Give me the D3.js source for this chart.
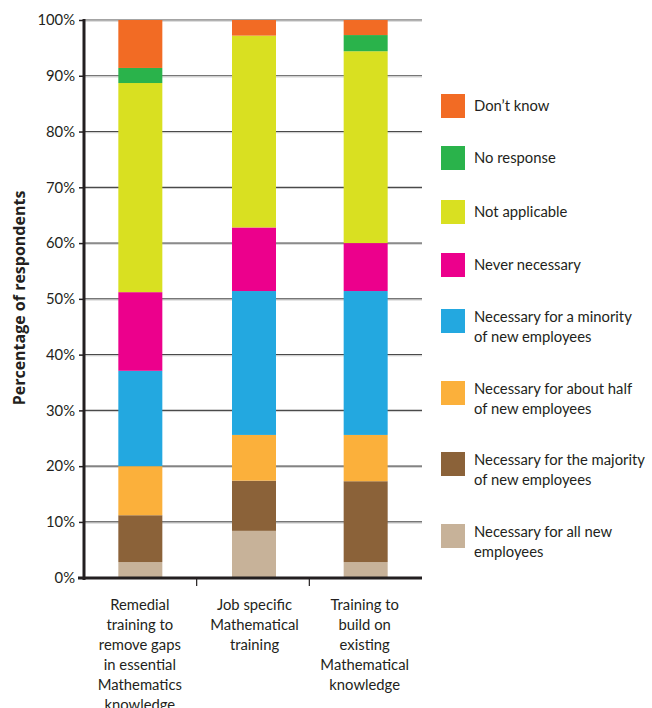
<!DOCTYPE html>
<html><head><meta charset="utf-8">
<script src="https://cdn.jsdelivr.net/npm/d3@7"></script>
<style>body{margin:0;background:#fff;} text{font-family:Lato,"Open Sans",sans-serif;fill:#231F20;}</style>
</head><body>
<svg id="c" width="652" height="708"></svg>
<script>
const categories = [
  ["Remedial","training to","remove gaps","in essential","Mathematics","knowledge"],
  ["Job specific","Mathematical","training"],
  ["Training to","build on","existing","Mathematical","knowledge"]
];
const catKeys = ["Remedial", "Job specific", "Training to build"];
const seriesNames = ["Necessary for all new employees","Necessary for the majority of new employees","Necessary for about half of new employees","Necessary for a minority of new employees","Never necessary","Not applicable","No response","Don’t know"];
const seriesColors = ["#C7B299","#8B6239","#FBB03B","#23A8E0","#EC008C","#D9E021","#2AB34B","#F26B24"];
// values per series, for [Remedial, Job specific, Training to build]
const allNew    = [2.8, 8.4, 2.8];
const majority  = [8.4, 9.0, 14.5];
const half      = [8.8, 8.2, 8.3];
const minority  = [17.1, 25.8, 25.8];
const never     = [14.1, 11.4, 8.6];
const notAppl   = [37.5, 34.4, 34.4];
const noResp    = [2.7, 0.0, 2.9];
const dontKnow  = [8.6, 2.8, 2.7];
const seriesValues = [allNew, majority, half, minority, never, notAppl, noResp, dontKnow];
const yTicks = [0,10,20,30,40,50,60,70,80,90,100];
const legendLines = [
  ["Don’t know"],["No response"],["Not applicable"],["Never necessary"],
  ["Necessary for a minority","of new employees"],["Necessary for about half","of new employees"],
  ["Necessary for the majority","of new employees"],["Necessary for all new","employees"]
];
const legendColors = ["#F26B24","#2AB34B","#D9E021","#EC008C","#23A8E0","#FBB03B","#8B6239","#C7B299"];
const legendTops = [94,146,200,253,309,381,452,524];

const svg = d3.select("#c");
const x = d3.scaleBand().domain(catKeys).range([84,422]).padding(0);
const y = d3.scaleLinear().domain([0,100]).range([577.7,20]);
const barW = 44;

// gridlines
svg.append("g").selectAll("line").data(yTicks.filter(d=>d>0)).join("line")
  .attr("x1",84).attr("x2",422).attr("y1",d=>y(d)).attr("y2",d=>y(d))
  .attr("stroke","#4a4a4a").attr("stroke-width",1.2);
svg.append("g").selectAll("line").data(yTicks.filter(d=>d>0)).join("line")
  .attr("x1",84).attr("x2",422).attr("y1",d=>y(d)+1.2).attr("y2",d=>y(d)+1.2)
  .attr("stroke","#d0d0d0").attr("stroke-width",1);

// stacked bars
const rows = catKeys.map((k,i)=>{const o={cat:k}; seriesNames.forEach((s,j)=>o[s]=seriesValues[j][i]); return o;});
const stack = d3.stack().keys(seriesNames)(rows);
svg.append("g").selectAll("g").data(stack).join("g")
  .attr("fill",(d,i)=>seriesColors[i])
  .selectAll("rect").data(d=>d).join("rect")
  .attr("x",d=>x(d.data.cat)+x.bandwidth()/2-barW/2+ (d.data.cat==="Job specific"?1:0))
  .attr("width",barW)
  .attr("y",d=>y(d[1])).attr("height",d=>Math.max(0,y(d[0])-y(d[1])));

// y axis
const yAxis = d3.axisLeft(y).tickValues(yTicks).tickFormat(d=>d+"%").tickSize(5).tickPadding(4);
const gy = svg.append("g").attr("transform","translate(84,0)").call(yAxis);
gy.select(".domain").attr("stroke","#231F20").attr("stroke-width",3).attr("d","M0,19V580");
gy.selectAll(".tick line").attr("stroke","#231F20").attr("stroke-width",1.5);
gy.selectAll(".tick text").style("font-family","Lato, sans-serif").style("font-size","14.8px").attr("fill","#231F20");

// x axis
const xAxis = d3.axisBottom(x).tickValues([]).tickSize(0);
const gx = svg.append("g").attr("transform","translate(0,578)").call(xAxis);
gx.select(".domain").attr("stroke","#231F20").attr("stroke-width",3).attr("d","M78,0H422");
svg.append("g").selectAll("line").data(catKeys.slice(1)).join("line")
  .attr("x1",d=>x(d)).attr("x2",d=>x(d)).attr("y1",578).attr("y2",586)
  .attr("stroke","#231F20").attr("stroke-width",1.2);

// category labels
const lab = svg.append("g").selectAll("text").data(categories).join("text")
  .attr("text-anchor","middle").style("font-size","14.8px")
  .attr("transform",(d,i)=>`translate(${x(catKeys[i])+x.bandwidth()/2+(i===0?-0.5:i===1?1.5:-1)},610)`);
lab.selectAll("tspan").data(d=>d).join("tspan").attr("x",0).attr("dy",(d,i)=>i===0?0:20).text(d=>d);

// y title
svg.append("text").attr("transform","translate(25,298) rotate(-90)").attr("text-anchor","middle")
  .style("font-family","'Open Sans', sans-serif")
  .style("font-size","16px").style("font-weight","bold").text("Percentage of respondents");

// legend
const lg = svg.append("g").selectAll("g").data(legendLines).join("g")
  .attr("transform",(d,i)=>`translate(441,${legendTops[i]})`);
lg.append("rect").attr("width",24).attr("height",24).attr("fill",(d,i)=>legendColors[i]);
lg.append("text").attr("x",33).attr("y",d=>d.length===1?17:13).style("font-size","14.8px")
  .selectAll("tspan").data(d=>d).join("tspan").attr("x",33).attr("dy",(d,i)=>i===0?0:19.5).text(d=>d);
</script>
</body></html>
